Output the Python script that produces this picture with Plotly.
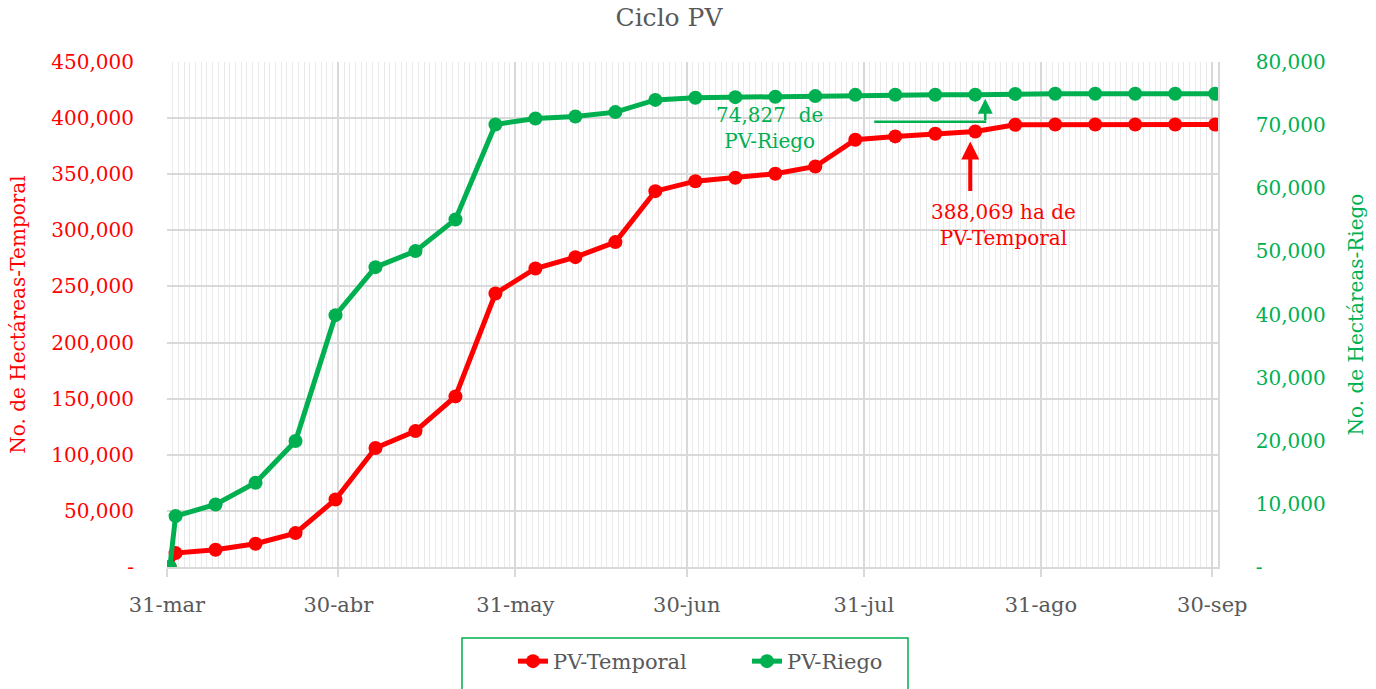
import pandas as pd
import plotly.graph_objects as go

# ---------------- data ----------------
fechas = ['2023-03-31', '2023-04-01', '2023-04-08', '2023-04-15', '2023-04-22', '2023-04-29',
          '2023-05-06', '2023-05-13', '2023-05-20', '2023-05-27', '2023-06-03', '2023-06-10',
          '2023-06-17', '2023-06-24', '2023-07-01', '2023-07-08', '2023-07-15', '2023-07-22',
          '2023-07-29', '2023-08-05', '2023-08-12', '2023-08-19', '2023-08-26', '2023-09-02',
          '2023-09-09', '2023-09-16', '2023-09-23', '2023-09-30']
pv_temporal = [0, 12400, 15400, 20700, 30200, 60200, 106000, 121100, 152000, 243700,
               266000, 276100, 289500, 334900, 343800, 346900, 350400, 356900, 380700,
               383700, 386000, 388069, 394100, 394300, 394300, 394300, 394300, 394300]
pv_riego = [0, 8060, 9900, 13350, 19950, 39900, 47500, 50040, 55060, 70110, 71060, 71370,
            72060, 74000, 74340, 74430, 74500, 74600, 74800, 74810, 74820, 74827, 74950,
            74960, 74960, 74960, 74960, 74960]

tick_fechas = ['2023-03-31', '2023-04-30', '2023-05-31', '2023-06-30', '2023-07-31',
               '2023-08-31', '2023-09-30']
tick_textos = ['31-mar', '30-abr', '31-may', '30-jun', '31-jul', '31-ago', '30-sep']
ticks_temporal = [0, 50000, 100000, 150000, 200000, 250000, 300000, 350000, 400000, 450000]
ticks_riego = [0, 10000, 20000, 30000, 40000, 50000, 60000, 70000, 80000]
fecha_nota = '2023-08-19'

# ---------------- styles ----------------
ROJO = '#FF0000'
VERDE = '#00B050'
GRIS = '#595959'
REJILLA = '#D9D9D9'
FUENTE = 'DejaVu Serif'


def etiqueta(v):
    return '-' if v == 0 else f'{v:,}'


# Excel date axis centres each point in the middle of its day
x = pd.to_datetime(fechas) + pd.Timedelta(hours=12)
idx = fechas.index(fecha_nota)

fig = go.Figure()
fig.add_trace(go.Scatter(
    x=x, y=pv_temporal, name='PV-Temporal', mode='lines+markers',
    line=dict(color=ROJO, width=5), marker=dict(color=ROJO, size=14),
    yaxis='y'))
fig.add_trace(go.Scatter(
    x=x, y=pv_riego, name='PV-Riego', mode='lines+markers',
    line=dict(color=VERDE, width=5), marker=dict(color=VERDE, size=14),
    yaxis='y2'))

W, H = 1376, 689
ML, MR, MT, MB = 167, 158, 62, 122
pw = W - ML - MR
ph = H - MT - MB


def px2paper_x(p):
    return (p - ML) / pw


def px2paper_y(p):
    return (H - MB - p) / ph


fig.update_layout(
    width=W, height=H,
    margin=dict(l=ML, r=MR, t=MT, b=MB, pad=0, autoexpand=False),
    paper_bgcolor='white', plot_bgcolor='white',
    font=dict(family=FUENTE, size=20, color=GRIS),
    title=dict(text='Ciclo PV', x=669 / W, xref='container', xanchor='center',
               y=1 - 17 / H, yref='container', yanchor='middle', automargin=False,
               font=dict(family=FUENTE, size=25, color=GRIS)),
    showlegend=True,
    legend=dict(orientation='h', x=px2paper_x(513), xanchor='left',
                y=px2paper_y(641), yanchor='top', entrywidth=189,
                font=dict(family=FUENTE, size=21, color=GRIS),
                bgcolor='rgba(0,0,0,0)', borderwidth=0),
    xaxis=dict(
        type='date', range=['2023-03-31', '2023-10-01'], automargin=False,
        tickmode='array', tickvals=tick_fechas, ticktext=tick_textos,
        tickfont=dict(family=FUENTE, size=21, color=GRIS),
        ticks='outside', ticklen=8, tickwidth=2, tickcolor=REJILLA,
        ticklabelstandoff=10,
        showgrid=True, gridcolor=REJILLA, gridwidth=2,
        minor=dict(tickmode='linear', tick0='2023-03-31', dtick=86400000,
                   showgrid=True, gridcolor='#EAEAEA', gridwidth=1, ticks=''),
        showline=True, linecolor=REJILLA, linewidth=2, zeroline=False),
    yaxis=dict(
        range=[0, 450000], tickmode='array', tickvals=ticks_temporal, automargin=False,
        ticktext=[etiqueta(v) for v in ticks_temporal],
        tickfont=dict(family=FUENTE, size=20, color=ROJO),
        ticklabelstandoff=32,
        showgrid=True, gridcolor=REJILLA, gridwidth=1.5, zeroline=False,
        showline=False,
        title=dict(text='No. de Hectáreas-Temporal', standoff=20,
                   font=dict(family=FUENTE, size=20, color=ROJO))),
    yaxis2=dict(
        range=[0, 80000], overlaying='y', side='right', tickmode='array', automargin=False,
        tickvals=ticks_riego, ticktext=[etiqueta(v) for v in ticks_riego],
        tickfont=dict(family=FUENTE, size=20, color=VERDE),
        ticklabelstandoff=32,
        showgrid=False, zeroline=False,
        showline=True, linecolor=REJILLA, linewidth=1.5,
        title=dict(text='No. de Hectáreas-Riego', standoff=24,
                   font=dict(family=FUENTE, size=20, color=VERDE))),
)

# legend frame (extends below the visible page)
fig.add_shape(type='rect', xref='paper', yref='paper',
              x0=px2paper_x(462), x1=px2paper_x(908),
              y0=px2paper_y(638), y1=px2paper_y(705),
              line=dict(color=VERDE, width=1.5), fillcolor='rgba(0,0,0,0)')

# red callout
fig.add_annotation(x=x[idx], y=pv_temporal[idx], xref='x', yref='y', text='',
                   showarrow=True, ax=0, ay=61, xshift=-5, standoff=10,
                   arrowhead=2, arrowwidth=4, arrowsize=0.9, arrowcolor=ROJO)
fig.add_annotation(x=x[idx], y=pv_temporal[idx], xref='x', yref='y',
                   text=f'{pv_temporal[idx]:,} ha de<br>PV-Temporal', showarrow=False,
                   xshift=28, yshift=-93, align='center',
                   font=dict(family=FUENTE, size=20, color=ROJO))

# green callout (elbow connector)
fig.add_shape(type='line', xref='x', yref='y2', xsizemode='pixel', ysizemode='pixel',
              xanchor=x[idx], yanchor=pv_riego[idx], x0=-101, x1=11, y0=-27, y1=-27,
              line=dict(color=VERDE, width=2.5))
fig.add_annotation(x=x[idx], y=pv_riego[idx], xref='x', yref='y2', text='',
                   showarrow=True, ax=0, ay=27, xshift=10, standoff=4,
                   arrowhead=2, arrowwidth=2.5, arrowsize=1.2, arrowcolor=VERDE)
fig.add_annotation(x=x[idx], y=pv_riego[idx], xref='x', yref='y2',
                   text=f'{pv_riego[idx]:,}&nbsp; de<br>PV-Riego', showarrow=False,
                   xshift=-206, yshift=-33, align='center',
                   font=dict(family=FUENTE, size=20, color=VERDE))

fig.write_html('out.html', config={'displayModeBar': False},
               post_script="document.body.style.margin='0';document.body.style.overflow='hidden';")
